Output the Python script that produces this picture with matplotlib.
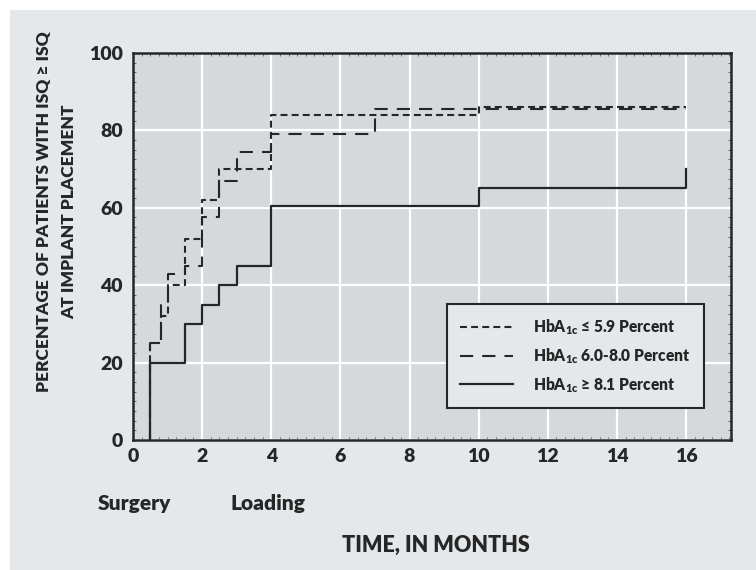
import matplotlib
matplotlib.use('Agg')
import matplotlib.pyplot as plt
from matplotlib.patches import Rectangle
from matplotlib.ticker import MultipleLocator
import matplotlib.transforms as mtransforms

plt.rcParams['font.family'] = ['Lato', 'DejaVu Sans']
plt.rcParams['font.weight'] = 'heavy'
plt.rcParams['mathtext.fontset'] = 'custom'
plt.rcParams['mathtext.rm'] = 'Lato:heavy'
plt.rcParams['mathtext.bf'] = 'Lato:heavy'
plt.rcParams['mathtext.it'] = 'Lato:heavy'
plt.rcParams['lines.scale_dashes'] = False

# step curves (months, percent)
t_low = [0.5, 0.5, 0.8, 1.0, 1.5, 2.0, 2.5, 4.0, 10.0, 16.0]
p_low = [0, 25, 32, 40, 52, 62, 70, 84, 86, 86]

t_mid = [0.5, 0.5, 0.8, 1.0, 1.5, 2.0, 2.5, 3.0, 4.0, 7.0, 16.0]
p_mid = [0, 25, 35, 43, 45, 57.5, 67, 74.5, 79, 85.5, 85.5]

t_high = [0.5, 0.5, 1.5, 2.0, 2.5, 3.0, 4.0, 10.0, 16.0]
p_high = [0, 20, 30, 35, 40, 45, 60.5, 65, 70]

labels = [r'HbA$_{\rm 1c}$ ≤ 5.9 Percent',
          r'HbA$_{\rm 1c}$ 6.0-8.0 Percent',
          r'HbA$_{\rm 1c}$ ≥ 8.1 Percent']

xticks = [0, 2, 4, 6, 8, 10, 12, 14, 16]
yticks = [0, 20, 40, 60, 80, 100]

panel = '#e4e8eb'
plotbg = '#d5d9dc'
ink = '#262626'

fig = plt.figure(figsize=(7.56, 5.70), dpi=100)
fig.patch.set_facecolor('white')
bg = Rectangle((10/756, 0), 1 - 10/756, 1 - 10/570,
               transform=fig.transFigure, facecolor=panel,
               edgecolor='none', zorder=-5)
fig.add_artist(bg)

ax = fig.add_axes([133/756, 1 - 440/570, 598/756, 387/570])
ax.set_facecolor(plotbg)

ax.plot(t_low, p_low, drawstyle='steps-post', color=ink, lw=1.5,
        dashes=(5, 3), label=labels[0])
ax.plot(t_mid, p_mid, drawstyle='steps-post', color=ink, lw=1.5,
        dashes=(9.5, 6.5), label=labels[1])
ax.plot(t_high, p_high, drawstyle='steps-post', color=ink, lw=1.6,
        label=labels[2])

ax.set_xlim(0, 17.3)
ax.set_ylim(0, 100)
ax.set_xticks(xticks)
ax.set_yticks(yticks)
ax.xaxis.set_minor_locator(MultipleLocator(0.25))
ax.yaxis.set_minor_locator(MultipleLocator(2.5))
ax.tick_params(which='major', length=0, labelsize=14, colors=ink)
ax.tick_params(axis='y', which='major', pad=7.5)
ax.tick_params(axis='x', which='major', pad=6)
ax.tick_params(which='minor', length=2, width=0.6, direction='in',
               top=True, right=True, color='#555555')
ax.grid(True, which='major', color='white', lw=1.6)
ax.set_axisbelow(True)
for s in ax.spines.values():
    s.set_color(ink)
    s.set_linewidth(1.8)

leg = ax.legend(loc='center', bbox_to_anchor=(0.74, 0.217), frameon=True,
                fancybox=False, facecolor=panel, edgecolor=ink, framealpha=1,
                fontsize=11.2, handlelength=3.4, handletextpad=1.3,
                borderpad=0.85, labelspacing=0.58, borderaxespad=0)
leg.get_frame().set_linewidth(1.5)
for t in leg.get_texts():
    t.set_color(ink)

trans = mtransforms.blended_transform_factory(ax.transData, ax.transAxes)
ax.text(0.05, -0.163, 'Surgery', transform=trans, ha='center', va='center',
        fontsize=15, color=ink)
ax.text(3.9, -0.163, 'Loading', transform=trans, ha='center', va='center',
        fontsize=15, color=ink)
ax.text(0.507, -0.272, 'TIME, IN MONTHS', transform=ax.transAxes,
        ha='center', va='center', fontsize=15.5, color=ink)

fig.text(0.075, 0.628, 'PERCENTAGE OF PATIENTS WITH ISQ ≥ ISQ\nAT IMPLANT PLACEMENT',
         rotation=90, ha='center', va='center', fontsize=12.5, color=ink,
         linespacing=1.65, multialignment='center')

fig.savefig('out.png', dpi=100, facecolor=fig.get_facecolor())
